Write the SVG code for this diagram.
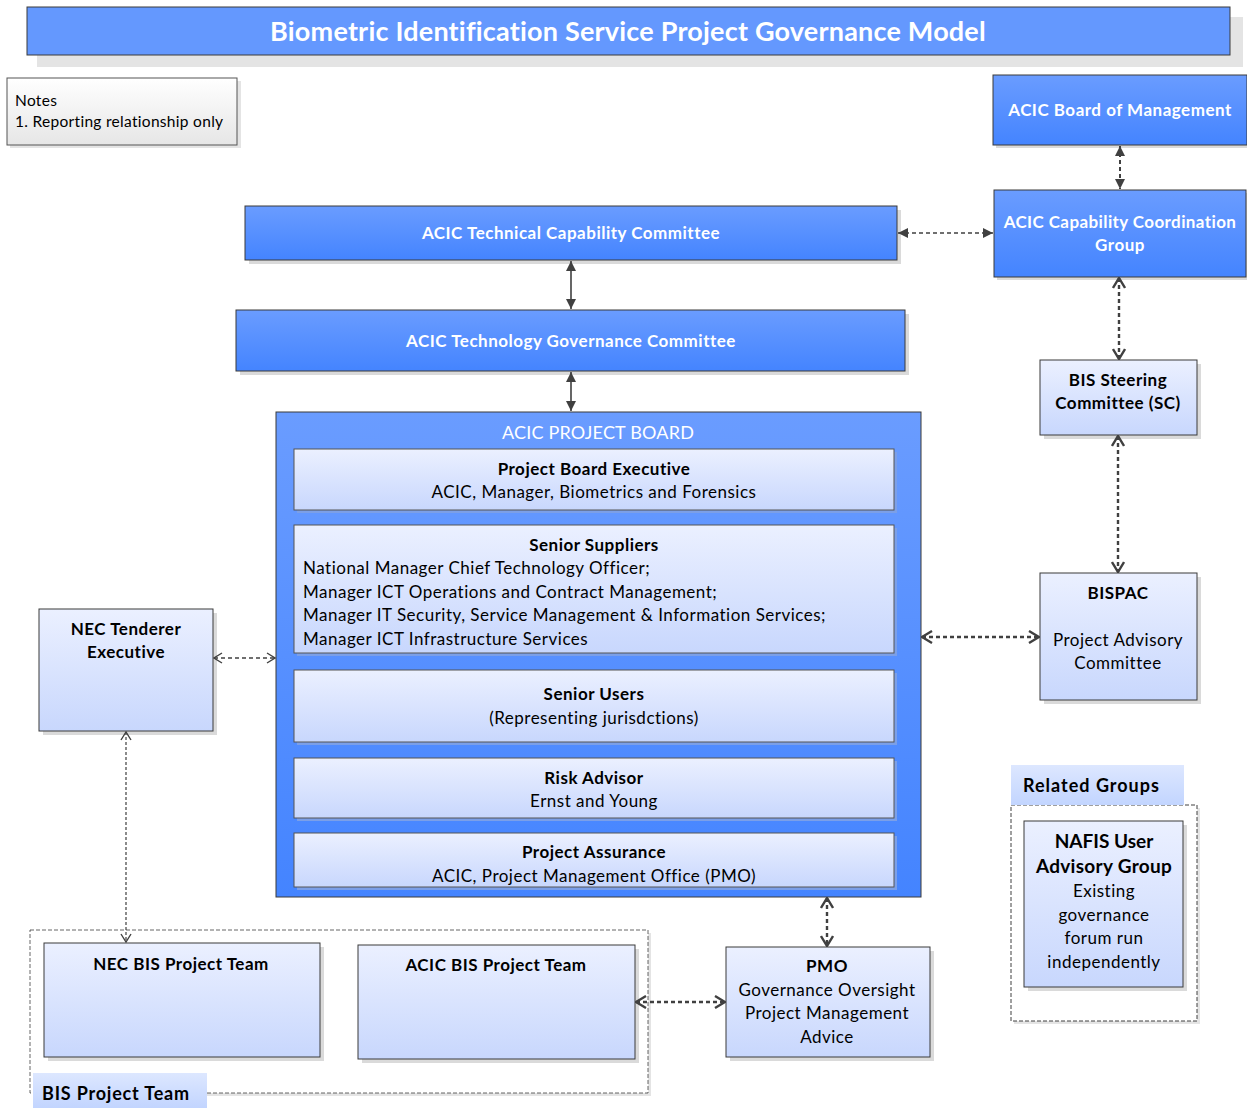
<svg xmlns="http://www.w3.org/2000/svg" width="1247" height="1108" viewBox="0 0 1247 1108">
<defs>
<linearGradient id="blue" x1="0" y1="0" x2="0" y2="1"><stop offset="0" stop-color="#6A9CFF"/><stop offset="1" stop-color="#4484FF"/></linearGradient>
<linearGradient id="light" x1="0" y1="0" x2="0" y2="1"><stop offset="0" stop-color="#EBF0FF"/><stop offset="1" stop-color="#C8D7FD"/></linearGradient>
<linearGradient id="label" x1="0" y1="0" x2="0" y2="1"><stop offset="0" stop-color="#DDE7FF"/><stop offset="1" stop-color="#C2D5FF"/></linearGradient>
<linearGradient id="notes" x1="0" y1="0" x2="0" y2="1"><stop offset="0" stop-color="#FFFFFF"/><stop offset="1" stop-color="#E6E6E6"/></linearGradient>
<marker id="tri" viewBox="0 0 10 10" refX="10" refY="5" markerWidth="10" markerHeight="10" markerUnits="userSpaceOnUse" orient="auto-start-reverse"><path d="M0,0 L10,5 L0,10 z" fill="#404040"/></marker>
<marker id="chev" viewBox="0 0 12 14" refX="11" refY="7" markerWidth="12" markerHeight="14" markerUnits="userSpaceOnUse" orient="auto-start-reverse"><path d="M1,1 L11,7 L1,13" fill="none" stroke="#404040" stroke-width="2.4"/></marker>
<marker id="chevs" viewBox="0 0 10 12" refX="9" refY="6" markerWidth="10" markerHeight="12" markerUnits="userSpaceOnUse" orient="auto-start-reverse"><path d="M1,1 L9,6 L1,11" fill="none" stroke="#404040" stroke-width="1.4"/></marker>
</defs>
<style>
text{font-family:"Lato","Liberation Sans",sans-serif;}
.shadow{fill:#DADADA;}
.bluebox{fill:url(#blue);stroke:#3A3A3A;stroke-width:1;}
.lightbox{fill:url(#light);stroke:#3A3A3A;stroke-width:1;}
.inner{fill:url(#light);stroke:#555;stroke-width:1;}
.wt{fill:#fff;font-weight:bold;font-size:17px;letter-spacing:0.5px;text-anchor:middle;}
.bt{fill:#000;font-weight:bold;font-size:17px;letter-spacing:0.5px;text-anchor:middle;}
.nt{fill:#000;font-size:17px;letter-spacing:0.5px;text-anchor:middle;}
.lt{fill:#000;font-size:17px;letter-spacing:0.5px;}
.dot{fill:none;stroke:#404040;stroke-width:2.4;stroke-dasharray:4 3;}
.dotthin{fill:none;stroke:#404040;stroke-width:1.2;stroke-dasharray:3 2;}
.solid{fill:none;stroke:#404040;stroke-width:1.6;}
.cont{fill:#fff;stroke:#404040;stroke-width:1;stroke-dasharray:4 2;}
</style>
<rect width="1247" height="1108" fill="#fff"/>

<g id="title">
<rect x="37" y="17" width="1206" height="50" fill="#E4E4E4"/>
<rect x="27" y="7" width="1203" height="48" fill="#6498FE" stroke="#3A3A3A"/>
<text x="628" y="41" class="wt" style="font-size:27px;letter-spacing:0.2px">Biometric Identification Service Project Governance Model</text>
</g>

<g id="notes">
<rect x="10" y="81" width="231" height="67" fill="#E4E4E4"/>
<rect x="7" y="78" width="230" height="67" fill="url(#notes)" stroke="#555"/>
<text x="15" y="106" class="lt" style="font-size:15.5px;letter-spacing:0.3px">Notes</text>
<text x="15" y="127" class="lt" style="font-size:15.5px;letter-spacing:0.3px">1. Reporting relationship only</text>
</g>

<g id="board-of-management">
<rect x="996" y="78" width="254" height="70" class="shadow"/>
<rect x="993" y="75" width="254" height="70" class="bluebox"/>
<text x="1120" y="116" class="wt">ACIC Board of Management</text>
</g>

<g id="capability-coordination-group">
<rect x="997" y="193" width="252" height="87" class="shadow"/>
<rect x="994" y="190" width="252" height="87" class="bluebox"/>
<text x="1120" y="228" class="wt" style="letter-spacing:0.4px">ACIC Capability Coordination</text>
<text x="1120" y="251" class="wt">Group</text>
</g>

<g id="technical-capability-committee">
<rect x="249" y="210" width="652" height="54" class="shadow"/>
<rect x="245" y="206" width="652" height="54" class="bluebox"/>
<text x="571" y="239" class="wt">ACIC Technical Capability Committee</text>
</g>

<g id="technology-governance-committee">
<rect x="240" y="314" width="669" height="61" class="shadow"/>
<rect x="236" y="310" width="669" height="61" class="bluebox"/>
<text x="571" y="347" class="wt">ACIC Technology Governance Committee</text>
</g>

<g id="project-board">
<rect x="276" y="412" width="645" height="485" class="bluebox"/>
<text x="598" y="439" class="wt" style="font-size:18px;font-weight:normal;letter-spacing:0.2px">ACIC PROJECT BOARD</text>
<g id="project-board-executive">
<rect x="297" y="452" width="600" height="61" fill="#7B9FE8"/>
<rect x="294" y="449" width="600" height="61" class="inner"/>
<text x="594" y="475" class="bt">Project Board Executive</text>
<text x="594" y="498" class="nt">ACIC, Manager, Biometrics and Forensics</text>
</g>
<g id="senior-suppliers">
<rect x="297" y="528" width="600" height="128" fill="#7B9FE8"/>
<rect x="294" y="525" width="600" height="128" class="inner"/>
<text x="594" y="551" class="bt">Senior Suppliers</text>
<text x="303" y="574" class="lt">National Manager Chief Technology Officer;</text>
<text x="303" y="598" class="lt">Manager ICT Operations and Contract Management;</text>
<text x="303" y="621" class="lt">Manager IT Security, Service Management &amp; Information Services;</text>
<text x="303" y="645" class="lt">Manager ICT Infrastructure Services</text>
</g>
<g id="senior-users">
<rect x="297" y="673" width="600" height="72" fill="#7B9FE8"/>
<rect x="294" y="670" width="600" height="72" class="inner"/>
<text x="594" y="700" class="bt">Senior Users</text>
<text x="594" y="724" class="nt">(Representing jurisdctions)</text>
</g>
<g id="risk-advisor">
<rect x="297" y="761" width="600" height="60" fill="#7B9FE8"/>
<rect x="294" y="758" width="600" height="60" class="inner"/>
<text x="594" y="784" class="bt">Risk Advisor</text>
<text x="594" y="807" class="nt">Ernst and Young</text>
</g>
<g id="project-assurance">
<rect x="297" y="836" width="600" height="54" fill="#7B9FE8"/>
<rect x="294" y="833" width="600" height="54" class="inner"/>
<text x="594" y="858" class="bt">Project Assurance</text>
<text x="594" y="882" class="nt">ACIC, Project Management Office (PMO)</text>
</g>
</g>

<g id="bis-steering-committee">
<rect x="1044" y="364" width="157" height="75" class="shadow"/>
<rect x="1040" y="360" width="157" height="75" class="lightbox"/>
<text x="1118" y="386" class="bt">BIS Steering</text>
<text x="1118" y="409" class="bt">Committee (SC)</text>
</g>

<g id="bispac">
<rect x="1044" y="577" width="157" height="127" class="shadow"/>
<rect x="1040" y="573" width="157" height="127" class="lightbox"/>
<text x="1118" y="599" class="bt">BISPAC</text>
<text x="1118" y="646" class="nt">Project Advisory</text>
<text x="1118" y="669" class="nt">Committee</text>
</g>

<g id="nec-tenderer-executive">
<rect x="43" y="613" width="174" height="122" class="shadow"/>
<rect x="39" y="609" width="174" height="122" class="lightbox"/>
<text x="126" y="635" class="bt">NEC Tenderer</text>
<text x="126" y="658" class="bt">Executive</text>
</g>

<g id="related-groups">
<rect x="1014" y="808" width="186" height="216" fill="#E4E4E4"/>
<rect x="1011" y="805" width="186" height="216" class="cont"/>
<rect x="1011" y="765" width="173" height="40" fill="url(#label)"/>
<text x="1023" y="792" class="lt" style="font-weight:bold;font-size:18px;letter-spacing:1px">Related Groups</text>
<g id="nafis-user-advisory-group">
<rect x="1028" y="825" width="159" height="166" class="shadow"/>
<rect x="1024" y="821" width="159" height="166" class="lightbox"/>
<text x="1104" y="848" class="bt" style="font-size:19px;letter-spacing:0">NAFIS User</text>
<text x="1104" y="873" class="bt" style="font-size:19px;letter-spacing:0.3px">Advisory Group</text>
<text x="1104" y="897" class="nt">Existing</text>
<text x="1104" y="921" class="nt">governance</text>
<text x="1104" y="944" class="nt">forum run</text>
<text x="1104" y="968" class="nt">independently</text>
</g>
</g>

<g id="bis-project-team">
<rect x="33" y="933" width="618" height="163" fill="#E4E4E4"/>
<rect x="30" y="930" width="618" height="163" class="cont" style="stroke-width:0.8"/>
<rect x="33" y="1073" width="174" height="35" fill="url(#label)"/>
<text x="42" y="1100" class="lt" style="font-weight:bold;font-size:18px;letter-spacing:0.8px">BIS Project Team</text>
<g id="nec-bis-project-team">
<rect x="48" y="947" width="276" height="114" class="shadow"/>
<rect x="44" y="943" width="276" height="114" class="lightbox"/>
<text x="181" y="970" class="bt">NEC BIS Project Team</text>
</g>
<g id="acic-bis-project-team">
<rect x="362" y="949" width="277" height="114" class="shadow"/>
<rect x="358" y="945" width="277" height="114" class="lightbox"/>
<text x="496" y="971" class="bt">ACIC BIS Project Team</text>
</g>
</g>

<g id="pmo">
<rect x="730" y="951" width="204" height="110" class="shadow"/>
<rect x="726" y="947" width="204" height="110" class="lightbox"/>
<text x="827" y="972" class="bt">PMO</text>
<text x="827" y="996" class="nt">Governance Oversight</text>
<text x="827" y="1019" class="nt">Project Management</text>
<text x="827" y="1043" class="nt">Advice</text>
</g>

<g id="connectors">
<path d="M1120,146 V189" class="dot" style="stroke-width:2" marker-start="url(#tri)" marker-end="url(#tri)"/>
<path d="M898,233 H993" class="dot" style="stroke-width:1.6" marker-start="url(#tri)" marker-end="url(#tri)"/>
<path d="M571,261 V309" class="solid" marker-start="url(#tri)" marker-end="url(#tri)"/>
<path d="M571,372 V411" class="solid" marker-start="url(#tri)" marker-end="url(#tri)"/>
<path d="M1119,278 V359" class="dot" marker-start="url(#chev)" marker-end="url(#chev)"/>
<path d="M1118,436 V572" class="dot" marker-start="url(#chev)" marker-end="url(#chev)"/>
<path d="M922,637 H1039" class="dot" marker-start="url(#chev)" marker-end="url(#chev)"/>
<path d="M214,658 H275" class="dot" style="stroke-width:1.6" marker-start="url(#chevs)" marker-end="url(#chevs)"/>
<path d="M126,732 V942" class="dotthin" marker-start="url(#chevs)" marker-end="url(#chevs)"/>
<path d="M636,1002 H725" class="dot" marker-start="url(#chev)" marker-end="url(#chev)"/>
<path d="M827,898 V946" class="dot" marker-start="url(#chev)" marker-end="url(#chev)"/>
</g>
</svg>
